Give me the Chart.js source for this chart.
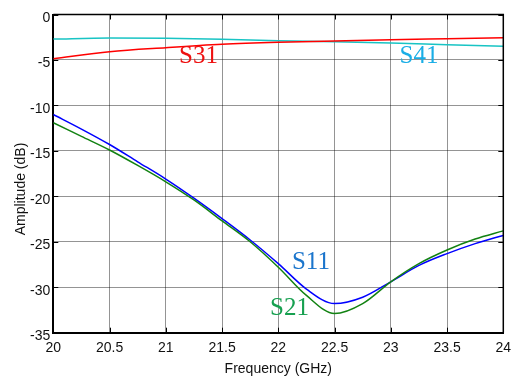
<!DOCTYPE html>
<html>
<head>
<meta charset="utf-8">
<script src="https://cdn.jsdelivr.net/npm/chart.js@4.4.1/dist/chart.umd.min.js"></script>
<style>
  html, body { margin: 0; padding: 0; background: #fff; }
</style>
</head>
<body>
<canvas id="chart" width="515" height="376"></canvas>
<script>
// S-parameter data (GHz / dB)
const freqFine = [20, 20.25, 20.5, 20.75, 21, 21.25, 21.5, 21.75, 22, 22.25, 22.5, 22.75, 23, 23.25, 23.5, 23.75, 24];
const s11 = [-11.0, -12.6, -14.3, -16.2, -18.1, -20.2, -22.45, -24.8, -27.4, -30.2, -31.8, -31.1, -29.4, -27.6, -26.3, -25.2, -24.3];
const s21 = [-11.9, -13.4, -14.9, -16.6, -18.4, -20.4, -22.7, -25.0, -27.8, -30.9, -32.9, -31.8, -29.4, -27.4, -25.9, -24.7, -23.8];

const freqCoarse = [20, 20.5, 21, 21.5, 22, 22.5, 23, 23.5, 24];
const s31 = [-4.86, -4.09, -3.65, -3.28, -3.06, -2.92, -2.77, -2.66, -2.55];
const s41 = [-2.70, -2.59, -2.62, -2.73, -2.88, -2.99, -3.13, -3.32, -3.50];

const seriesNames = ["S11", "S21", "S31", "S41"];

/* ============================
   HELPERS
============================ */

function toPoints(xs, ys) {
  return xs.map((x, i) => ({ x: x, y: ys[i] }));
}

function lineSet(label, xs, ys, color) {
  return {
    label: label,
    data: toPoints(xs, ys),
    borderColor: color,
    borderWidth: 1.5,
    pointRadius: 0,
    fill: false,
    cubicInterpolationMode: "monotone",
  };
}

// where the curve names sit (data coords) and their text colours
const nameSpots = {
  S11: { x: 22.29, y: -27.3, color: "#1b75cc" },
  S21: { x: 22.10, y: -32.3, color: "#17a050" },
  S31: { x: 21.29, y: -4.65, color: "#ee1111" },
  S41: { x: 23.25, y: -4.65, color: "#1aaee6" },
};

/* ============================
   PLUGINS
============================ */

// black frame on top/right plus inward tick marks on every side
const frameTicks = {
  id: "frameTicks",
  afterDraw(chart) {
    const { ctx, chartArea: a, scales } = chart;
    const len = 5;
    ctx.save();
    ctx.strokeStyle = "#000";
    ctx.lineWidth = 1.5;
    ctx.beginPath();
    ctx.moveTo(a.left, a.top);
    ctx.lineTo(a.right, a.top);
    ctx.lineTo(a.right, a.bottom);
    ctx.stroke();

    ctx.lineWidth = 1;
    ctx.beginPath();
    scales.x.ticks.forEach((t) => {
      const px = Math.round(scales.x.getPixelForValue(t.value)) + 0.5;
      ctx.moveTo(px, a.bottom);
      ctx.lineTo(px, a.bottom - len);
      ctx.moveTo(px, a.top);
      ctx.lineTo(px, a.top + len);
    });
    scales.y.ticks.forEach((t) => {
      const py = Math.round(scales.y.getPixelForValue(t.value)) + 0.5;
      ctx.moveTo(a.left, py);
      ctx.lineTo(a.left + len, py);
      ctx.moveTo(a.right, py);
      ctx.lineTo(a.right - len, py);
    });
    ctx.stroke();
    ctx.restore();
  },
};

// curve names in serif text + y axis title
const curveNames = {
  id: "curveNames",
  afterDatasetsDraw(chart) {
    const { ctx, scales } = chart;
    ctx.save();
    ctx.font = '25px "Liberation Serif", "DejaVu Serif", serif';
    ctx.textAlign = "center";
    ctx.textBaseline = "middle";
    seriesNames.forEach((name) => {
      const s = nameSpots[name];
      ctx.fillStyle = s.color;
      ctx.fillText(name, scales.x.getPixelForValue(s.x), scales.y.getPixelForValue(s.y));
    });

    ctx.font = '14px "Liberation Sans", Arial, sans-serif';
    ctx.fillStyle = "#111";
    ctx.translate(21, 189);
    ctx.rotate(-Math.PI / 2);
    ctx.fillText("Amplitude (dB)", 0, 0);
    ctx.restore();
  },
};

/* ============================
   CHART
============================ */

const gridColor = "rgba(0,0,0,0.42)";
const tickFont = { family: '"Liberation Sans", Arial, sans-serif', size: 14 };

new Chart(document.getElementById("chart"), {
  type: "line",
  data: {
    datasets: [
      lineSet("S21", freqFine, s21, "#128212"),
      lineSet("S11", freqFine, s11, "#0000ff"),
      lineSet("S31", freqCoarse, s31, "#ff0000"),
      lineSet("S41", freqCoarse, s41, "#18c4c4"),
    ],
  },
  options: {
    responsive: false,
    animation: false,
    layout: { padding: { top: 14.5, right: 11.7, left: 0, bottom: 0 } },
    plugins: {
      legend: { display: false },
      tooltip: { enabled: false },
    },
    scales: {
      x: {
        type: "linear",
        min: 20,
        max: 24,
        afterFit(scale) {
          scale.height = 43.3;
          scale.paddingLeft = 0;
          scale.paddingRight = 0;
        },
        ticks: {
          stepSize: 0.5,
          color: "#111",
          font: tickFont,
          padding: 7,
          maxRotation: 0,
          autoSkip: false,
          callback: (v) => String(Number(v.toFixed(2))),
        },
        grid: { color: gridColor, lineWidth: 1, drawTicks: false },
        border: { display: true, color: "#000", width: 2 },
        title: {
          display: true,
          text: "Frequency (GHz)",
          color: "#111",
          font: tickFont,
          padding: { top: 0, bottom: -2 },
        },
      },
      y: {
        min: -35,
        max: 0,
        afterFit(scale) {
          scale.width = 53.3;
          scale.paddingTop = 0;
          scale.paddingBottom = 0;
        },
        ticks: {
          stepSize: 5,
          color: "#111",
          font: tickFont,
          padding: 3,
          labelOffset: 3.5,
        },
        grid: { color: gridColor, lineWidth: 1, drawTicks: false },
        border: { display: true, color: "#000", width: 2 },
      },
    },
  },
  plugins: [frameTicks, curveNames],
});
</script>
</body>
</html>
